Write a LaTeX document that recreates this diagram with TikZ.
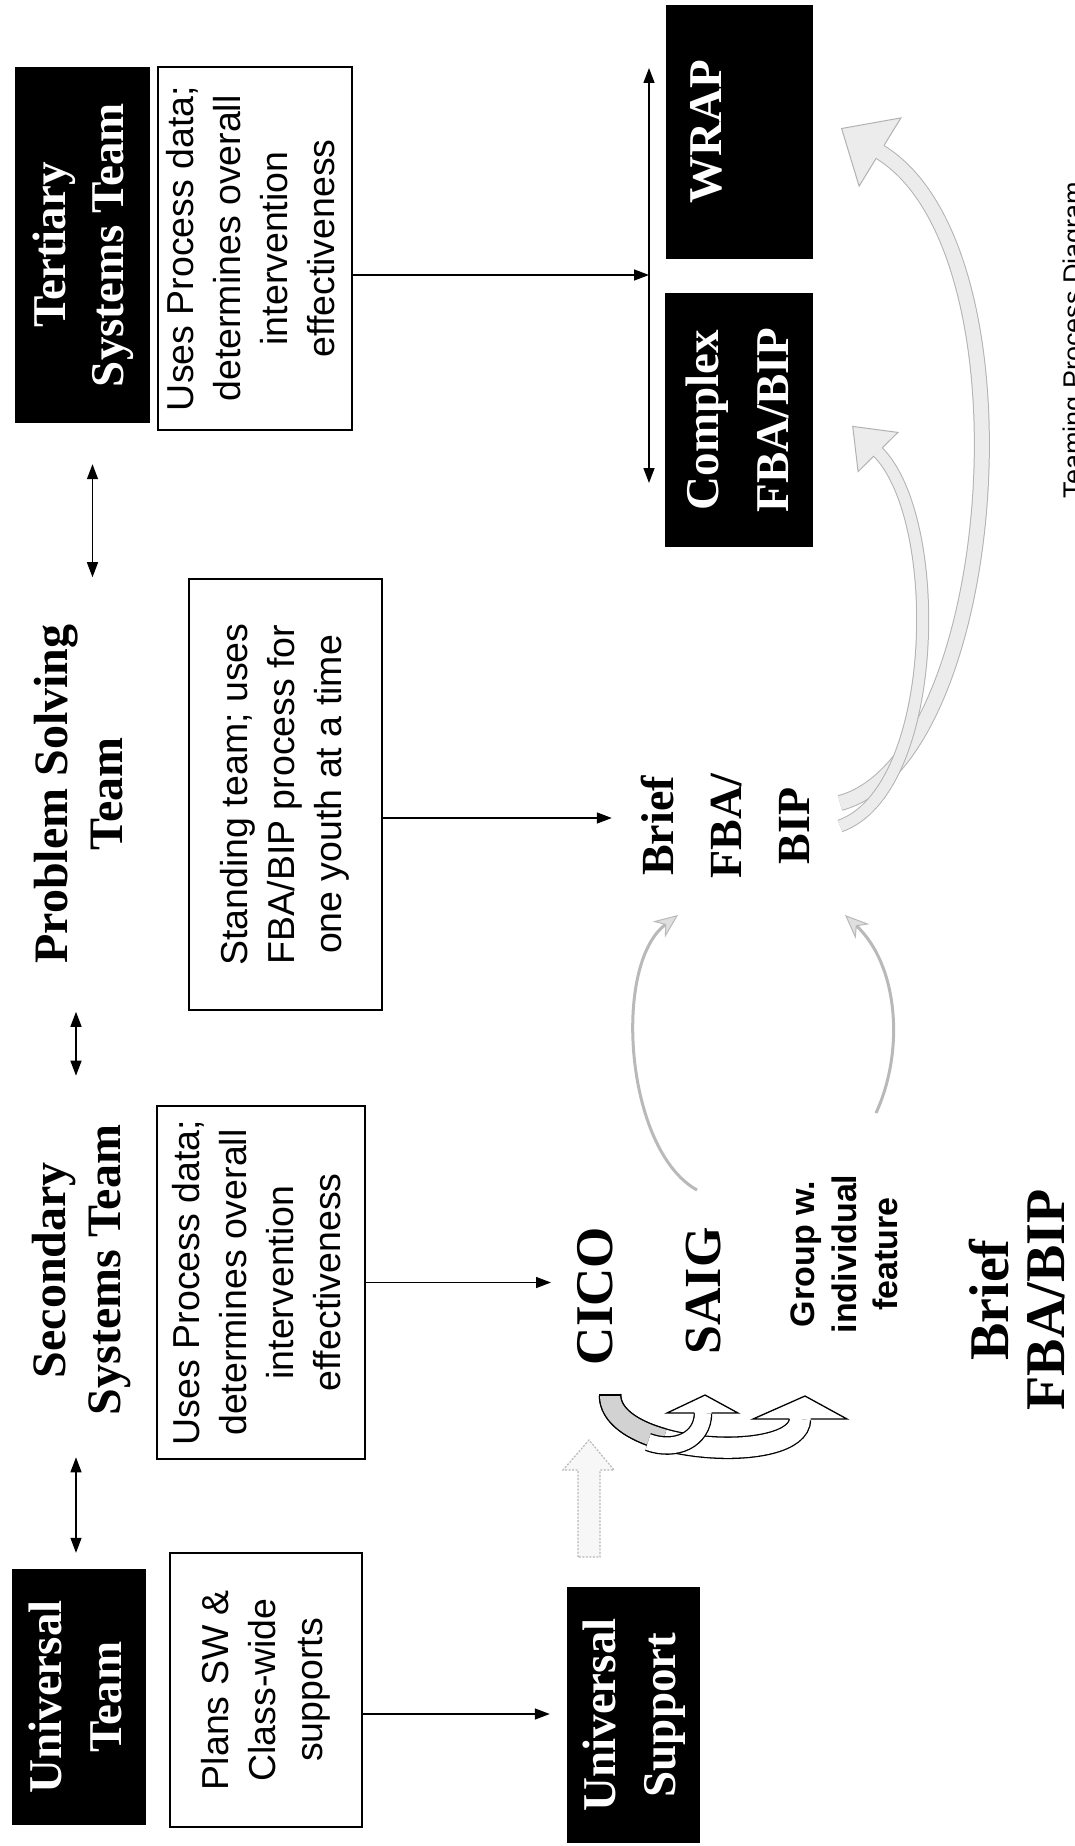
\documentclass[tikz,border=0pt]{standalone}
\usepackage{fontspec}
\setmainfont{Liberation Serif}
\newfontfamily\arial{Liberation Sans}
\usepackage{graphicx}
\usetikzlibrary{arrows.meta}
\newcommand{\rtab}[1]{\rotatebox{90}{\begin{tabular}{@{}c@{}}#1\end{tabular}}}
\begin{document}
\begin{tikzpicture}[x=1pt,y=-1pt,
  blackbox/.style={fill=black,text=white,inner sep=0pt,font=\fontsize{47}{60}\selectfont\bfseries},
  textbox/.style={draw=black,line width=1.2pt,fill=white,inner sep=0pt,font=\arial\fontsize{37.5}{47}\selectfont},
  titletext/.style={inner sep=0pt,font=\fontsize{48}{55}\selectfont\bfseries},
  conn/.style={line width=1.4pt,-{Triangle[length=15pt,width=11pt]}},
  dconn/.style={line width=1.4pt,{Triangle[length=15pt,width=11pt]}-{Triangle[length=15pt,width=11pt]}},
  grayarc/.style={draw=gray!55,line width=3pt,-{Stealth[length=24pt,width=20pt,line width=1pt,fill=gray!25]}},
  grayband/.style={draw=gray!60,line width=1pt,double=gray!15},
  hollowhead/.style={line width=1.3pt,line join=miter},
]
\useasboundingbox (0,0) rectangle (1074,1846);
\clip (0,0) rectangle (1074,1846);
\fill[white] (0,0) rectangle (1074,1846);

% ---- nodes ----
\node[blackbox,font=\fontsize{47}{58}\selectfont\bfseries,minimum width=135pt,minimum height=356pt] (tert) at (82.5,245) {\rtab{Tertiary\\Systems Team}};
\node[textbox,minimum width=194pt,minimum height=363pt] (tw) at (255,248.5) {\rtab{Uses Process data;\\determines overall\\intervention\\effectiveness}};

\node[titletext] (ps) at (84,794) {\rtab{Problem Solving\\Team}};
\node[textbox,minimum width=193pt,minimum height=431pt] (pw) at (285.5,794.5) {\rtab{Standing team; uses\\FBA/BIP process for\\one youth at a time}};

\node[titletext] (sec) at (82,1270) {\rtab{Secondary\\Systems Team}};
\node[textbox,minimum width=208pt,minimum height=353pt] (sw) at (261,1282.5) {\rtab{Uses Process data;\\determines overall\\intervention\\effectiveness}};

\node[blackbox,minimum width=134pt,minimum height=256pt] (ut) at (79,1697) {\rtab{Universal\\Team}};
\node[textbox,minimum width=192pt,minimum height=274pt] (plw) at (266,1690) {\rtab{Plans SW \&\\Class-wide\\supports}};
\node[blackbox,minimum width=133pt,minimum height=256pt] (us) at (633.5,1715) {\rtab{Universal\\Support}};

\node[blackbox,minimum width=147pt,minimum height=254pt] (wrap) at (739.5,132) {\rtab{WRAP\\\mbox{}}};
\node[blackbox,font=\fontsize{47}{70}\selectfont\bfseries,minimum width=148pt,minimum height=254pt] (cplx) at (739,420) {\rtab{Complex\\FBA/BIP}};

\node[inner sep=0pt,font=\fontsize{53}{60}\selectfont\bfseries] (cico) at (595,1296) {\rotatebox{90}{CICO}};
\node[inner sep=0pt,font=\fontsize{52}{60}\selectfont\bfseries] (saig) at (704,1291) {\rotatebox{90}{SAIG}};
\node[inner sep=0pt,font=\arial\fontsize{34}{41.5}\selectfont\bfseries] (grp) at (848,1254) {\rtab{Group w.\\individual\\feature}};
\node[inner sep=0pt,font=\fontsize{46}{68}\selectfont\bfseries] (brief1) at (728,826) {\rtab{Brief\\FBA/\\BIP}};
\node[inner sep=0pt,font=\fontsize{56}{56}\selectfont\bfseries] (brief2) at (1025,1300) {\rtab{Brief\\FBA/BIP}};
\node[inner sep=0pt,anchor=north,rotate=90,font=\arial\fontsize{27}{30}\selectfont] (cap) at (1063,340) {Teaming Process Diagram};

% ---- black connectors ----
\coordinate (d1) at ([xshift=10pt]tert.south);
\draw[dconn,shorten <=41pt,shorten >=47pt] (d1) -- (d1 |- ps.north);
\coordinate (d2) at ([xshift=-8pt]ps.south);
\draw[dconn,shorten <=48pt,shorten >=49pt] (d2) -- (d2 |- sec.north);
\coordinate (d3) at ([xshift=-6pt]sec.south);
\draw[dconn,shorten <=42pt,shorten >=16pt] (d3) -- (d3 |- ut.north);

\coordinate (vtop) at (649,68);
\coordinate (vbot) at (649,483);
\draw[dconn] (vtop) -- (vbot);
\coordinate (a1) at ([yshift=-26.5pt]tw.east);
\draw[conn] (a1) -- (a1 -| vtop);
\coordinate (a2) at ([yshift=-23.5pt]pw.east);
\draw[conn,shorten >=14pt] (a2) -- (a2 -| brief1.west);
\draw[conn,shorten >=26pt] (sw.east) -- (sw.east -| cico.west);
\coordinate (a3) at ([yshift=-24pt]plw.east);
\draw[conn,shorten >=17pt] (a3) -- (a3 -| us.west);

% ---- gray straight hollow arrow (Universal Support -> CICO) ----
\draw[draw=gray!55,line width=1.2pt,dash pattern=on 2pt off 1.5pt,fill=gray!6]
  (578,1557) -- (578,1470) -- (563,1470) -- (589,1440) -- (614,1470) -- (600,1470) -- (600,1557) -- cycle;

% ---- black curved hollow arrows (CICO -> SAIG, Group) ----
\draw[line width=1.3pt,double=white,double distance=20pt] (610,1395) .. controls (610,1455) and (800,1465) .. (800,1419);
\draw[line width=1.3pt,double=gray!35,double distance=20pt] (610,1395) .. controls (610,1416) and (633.3,1430.9) .. (663.5,1439.3);
\draw[line width=1.3pt] (599.3,1395) -- (620.7,1395);
\draw[line width=1.3pt,double=white,double distance=16pt] (648,1442) .. controls (675,1452) and (703,1440) .. (703,1413);
\fill[white] (667,1413) -- (705,1395) -- (738,1413) -- cycle;
\draw[hollowhead] (694.4,1413) -- (667,1413) -- (705,1395) -- (738,1413) -- (711.6,1413);
\fill[white] (753,1419) -- (805,1396) -- (847,1419) -- cycle;
\draw[hollowhead] (789.4,1419) -- (753,1419) -- (805,1396) -- (847,1419) -- (810.6,1419);

% ---- gray arcs around Brief FBA/BIP ----
\draw[grayarc] (697,1190) .. controls (625,1150) and (612,965) .. (678,915);
\draw[grayarc] (876,1113) .. controls (905,1050) and (898,965) .. (845,915);

% ---- big gray arrows to Complex FBA/BIP and WRAP ----
\draw[grayband,double distance=14pt] (840,803) .. controls (1000,760) and (1040,250) .. (880,152);
\fill[gray!15] (900.9,117.9) -- (841.6,128.5) -- (859.1,186.1) -- cycle;
\draw[draw=gray!60,line width=1pt] (883.9,145.6) -- (900.9,117.9) -- (841.6,128.5) -- (859.1,186.1) -- (876.1,158.4);
\draw[grayband,double distance=11pt] (840,826) .. controls (940,790) and (945,520) .. (878,452);
\fill[gray!15] (897.9,432.4) -- (852.7,426.4) -- (858.1,471.6) -- cycle;
\draw[draw=gray!60,line width=1pt] (882.3,447.8) -- (897.9,432.4) -- (852.7,426.4) -- (858.1,471.6) -- (873.7,456.2);
\end{tikzpicture}
\end{document}
